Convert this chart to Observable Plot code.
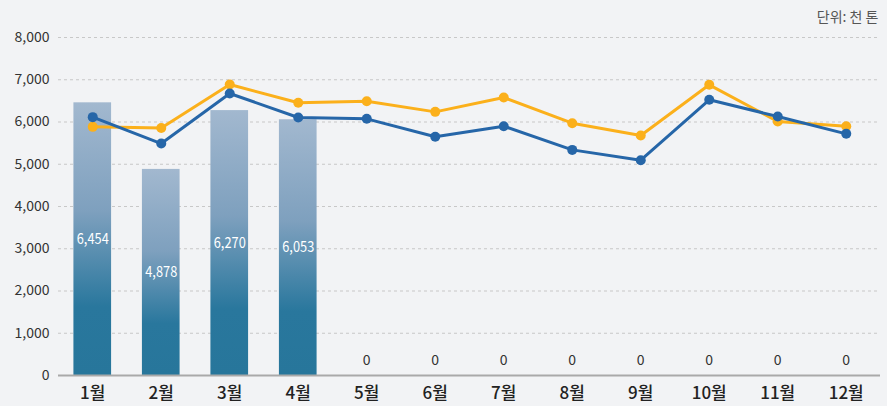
<!DOCTYPE html>
<html>
<head>
<meta charset="utf-8">
<script src="https://cdn.jsdelivr.net/npm/d3@7"></script>
<script src="https://cdn.jsdelivr.net/npm/@observablehq/plot@0.6"></script>
<style>
  html, body { margin: 0; padding: 0; background: #f2f3f5; }
  #chart svg { display: block; }
</style>
</head>
<body>
<div id="chart"></div>
<script>
const months = ["1월","2월","3월","4월","5월","6월","7월","8월","9월","10월","11월","12월"];
const barValues = [6454, 4878, 6270, 6053, 0, 0, 0, 0, 0, 0, 0, 0];
const blueValues = [6115, 5490, 6675, 6107, 6075, 5650, 5900, 5340, 5096, 6525, 6130, 5720];
const yellowValues = [5885, 5860, 6887, 6454, 6492, 6240, 6580, 5972, 5680, 6880, 6012, 5900];
const yTicks = [0, 1000, 2000, 3000, 4000, 5000, 6000, 7000, 8000];
const unitLabel = "단위: 천 톤";

const bars = months.map((m, i) => ({month: m, value: barValues[i]}));
const blue = months.map((m, i) => ({month: m, value: blueValues[i]}));
const yellow = months.map((m, i) => ({month: m, value: yellowValues[i]}));

const chart = Plot.plot({
  width: 887,
  height: 406,
  marginTop: 37,
  marginBottom: 31,
  marginLeft: 58,
  marginRight: 7,
  style: {background: "#f2f3f5", fontFamily: "'Noto Sans CJK KR', 'Noto Sans', sans-serif", color: "#333"},
  x: {domain: months, paddingInner: 0.45, paddingOuter: 0.225, round: false, label: null},
  y: {domain: [0, 8000], label: null},
  marks: [
    Plot.ruleY(yTicks.filter(d => d > 0), {stroke: "#c8c8c8", strokeWidth: 1.2, strokeDasharray: "3,3"}),
    Plot.barY(bars, {x: "month", y: "value", fill: "url(#barGrad)"}),
    Plot.ruleY([0], {stroke: "#a9a9a9", strokeWidth: 2}),
    Plot.axisY({ticks: yTicks, tickSize: 0, tickPadding: 9, fontSize: 14, tickFormat: d3.format(","), fill: "#333"}),
    Plot.axisX({tickSize: 0, tickPadding: 11, fontSize: 17, fontWeight: 500, fill: "#222"}),
    Plot.line(yellow, {x: "month", y: "value", stroke: "#fbb01b", strokeWidth: 3}),
    Plot.dot(yellow, {x: "month", y: "value", fill: "#fbb01b", r: 5}),
    Plot.line(blue, {x: "month", y: "value", stroke: "#2666a8", strokeWidth: 3}),
    Plot.dot(blue, {x: "month", y: "value", fill: "#2666a8", r: 5}),
    Plot.text(bars.filter(d => d.value > 0), {x: "month", y: d => d.value / 2, text: d => d3.format(",")(d.value), fill: "white", fontSize: 15, className: "barlbl"}),
    Plot.text(bars.filter(d => d.value === 0), {x: "month", y: "value", text: d => d3.format(",")(d.value), fill: "#333", fontSize: 14, dy: -15}),
    Plot.text([unitLabel], {frameAnchor: "top-right", text: d => d, dy: -25, dx: -2, fontSize: 14, fill: "#555"})
  ]
});

const svg = d3.select(chart);
const defs = svg.insert("defs", ":first-child");
const grad = defs.append("linearGradient").attr("id", "barGrad").attr("x1", 0).attr("y1", 0).attr("x2", 0).attr("y2", 1);
grad.append("stop").attr("offset", "0%").attr("stop-color", "#a2b8cf");
grad.append("stop").attr("offset", "40%").attr("stop-color", "#7ea0be");
grad.append("stop").attr("offset", "75%").attr("stop-color", "#29779d");
grad.append("stop").attr("offset", "100%").attr("stop-color", "#27769b");
svg.selectAll(".barlbl text").attr("textLength", 32).attr("lengthAdjust", "spacingAndGlyphs");

document.getElementById("chart").appendChild(chart);
</script>
</body>
</html>
